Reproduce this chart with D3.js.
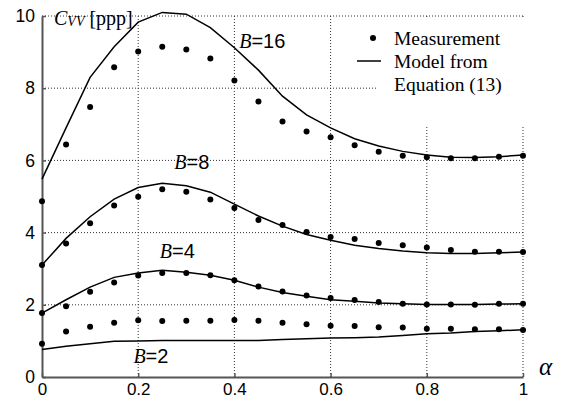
<!DOCTYPE html>
<html>
<head>
<meta charset="utf-8">
<script src="https://cdn.jsdelivr.net/npm/d3@7"></script>
<style>
  body { margin: 0; background: #fff; }
  svg { display: block; }
</style>
</head>
<body>
<div id="chart"></div>
<script>
// alpha values shared by every series (0 .. 1 in steps of 0.05)
const alphas = [0, 0.05, 0.1, 0.15, 0.2, 0.25, 0.3, 0.35, 0.4, 0.45, 0.5,
                0.55, 0.6, 0.65, 0.7, 0.75, 0.8, 0.85, 0.9, 0.95, 1];

// measured C_VV (dots)
const meas16 = [4.87, 6.44, 7.48, 8.58, 9.02, 9.15, 9.07, 8.82, 8.21, 7.63, 7.08,
                6.80, 6.64, 6.42, 6.24, 6.13, 6.09, 6.06, 6.06, 6.10, 6.13];
const meas8  = [3.10, 3.70, 4.26, 4.75, 4.99, 5.20, 5.13, 4.92, 4.68, 4.35, 4.21,
                4.02, 3.88, 3.82, 3.71, 3.65, 3.59, 3.52, 3.47, 3.47, 3.46];
const meas4  = [1.77, 1.96, 2.36, 2.62, 2.81, 2.88, 2.88, 2.82, 2.68, 2.51, 2.37,
                2.26, 2.19, 2.13, 2.08, 2.03, 2.01, 2.01, 2.00, 2.03, 2.03];
const meas2  = [0.92, 1.26, 1.39, 1.50, 1.57, 1.55, 1.56, 1.56, 1.58, 1.56, 1.50,
                1.46, 1.42, 1.41, 1.38, 1.37, 1.34, 1.34, 1.32, 1.32, 1.30];

// model from Equation (13) (lines)
const model16 = [5.48, 6.90, 8.30, 9.15, 9.83, 10.10, 10.05, 9.68, 9.12, 8.50, 7.78,
                 7.26, 6.90, 6.60, 6.40, 6.25, 6.15, 6.09, 6.08, 6.10, 6.15];
const model8  = [3.10, 3.84, 4.44, 4.93, 5.25, 5.37, 5.30, 5.12, 4.79, 4.46, 4.18,
                 3.95, 3.79, 3.65, 3.56, 3.49, 3.44, 3.42, 3.42, 3.44, 3.46];
const model4  = [1.77, 2.14, 2.49, 2.76, 2.88, 2.96, 2.90, 2.82, 2.68, 2.49, 2.34,
                 2.24, 2.14, 2.10, 2.05, 2.03, 2.01, 2.01, 2.01, 2.02, 2.03];
const model2  = [0.76, 0.85, 0.92, 0.99, 1.00, 1.01, 1.01, 1.01, 1.01, 1.01, 1.04,
                 1.06, 1.08, 1.09, 1.11, 1.15, 1.20, 1.22, 1.26, 1.28, 1.31];

const series = [
    { name: '16', meas: meas16, model: model16, label: [0.41, 9.1] },
    { name: '8',  meas: meas8,  model: model8,  label: [0.275, 5.75] },
    { name: '4',  meas: meas4,  model: model4,  label: [0.245, 3.3] },
    { name: '2',  meas: meas2,  model: model2,  label: [0.19, 0.38] }
];

const xTicks = [0, 0.2, 0.4, 0.6, 0.8, 1];
const yTicks = [0, 2, 4, 6, 8, 10];
const legendItems = ['Measurement', 'Model from', 'Equation (13)'];

const width = 565, height = 400;
const margin = { top: 16, right: 42, bottom: 23, left: 42 };

const svg = d3.select('#chart').append('svg')
    .attr('width', width)
    .attr('height', height);

const x = d3.scaleLinear().domain([0, 1]).range([margin.left, width - margin.right]);
const y = d3.scaleLinear().domain([0, 10]).range([height - margin.bottom, margin.top]);

// dotted grid
const grid = svg.append('g')
    .attr('stroke', '#333')
    .attr('stroke-width', 1)
    .attr('stroke-dasharray', '1,2');
grid.selectAll('line.vx')
    .data(xTicks.filter(d => d > 0))
    .enter().append('line')
    .attr('x1', d => x(d)).attr('x2', d => x(d))
    .attr('y1', y(0)).attr('y2', y(10));
grid.selectAll('line.hy')
    .data(yTicks.filter(d => d > 0))
    .enter().append('line')
    .attr('x1', x(0)).attr('x2', x(1))
    .attr('y1', d => y(d)).attr('y2', d => y(d));

// legend background hides the grid behind it
svg.append('rect')
    .attr('x', 376).attr('y', 18)
    .attr('width', 160).attr('height', 109)
    .attr('fill', '#fff');

// axes
const xAxis = svg.append('g')
    .attr('transform', `translate(0,${y(0)})`)
    .call(d3.axisBottom(x).tickValues(xTicks).tickFormat(d3.format('')).tickSizeInner(-4).tickSizeOuter(0));
const yAxis = svg.append('g')
    .attr('transform', `translate(${x(0)},0)`)
    .call(d3.axisLeft(y).tickValues(yTicks).tickFormat(d3.format('')).tickSizeInner(-4).tickSizeOuter(0));

[xAxis, yAxis].forEach(g => {
    g.select('.domain').attr('stroke', '#555').attr('stroke-width', 2);
    g.selectAll('.tick line').attr('stroke', '#555').attr('stroke-width', 1.5);
    g.selectAll('.tick text')
        .attr('fill', '#000')
        .style('font-family', '"Liberation Sans", Arial, sans-serif')
        .style('font-size', '17.5px');
});
xAxis.selectAll('.tick text').attr('y', 6).style('font-size', '17px');
yAxis.selectAll('.tick text').attr('x', -7);

// model lines
const line = d3.line()
    .x((d, i) => x(alphas[i]))
    .y(d => y(d));
svg.selectAll('path.model')
    .data(series)
    .enter().append('path')
    .attr('class', 'model')
    .attr('d', d => line(d.model))
    .attr('fill', 'none')
    .attr('stroke', '#000')
    .attr('stroke-width', 1.5);

// measurement dots
series.forEach(s => {
    svg.append('g').selectAll('circle')
        .data(s.meas)
        .enter().append('circle')
        .attr('cx', (d, i) => x(alphas[i]))
        .attr('cy', d => y(d))
        .attr('r', 3)
        .attr('fill', '#000');
});

// B = ... labels
series.forEach(s => {
    const t = svg.append('text')
        .attr('x', x(s.label[0]))
        .attr('y', y(s.label[1]))
        .style('font-size', '20px');
    t.append('tspan')
        .style('font-family', '"Liberation Serif", "Times New Roman", serif')
        .style('font-style', 'italic')
        .text('B');
    t.append('tspan')
        .style('font-family', '"Liberation Sans", Arial, sans-serif')
        .text('=' + s.name);
});

// y axis title
const yt = svg.append('text')
    .attr('x', 54).attr('y', 25)
    .style('font-family', '"Liberation Serif", "Times New Roman", serif')
    .style('font-size', '20px');
yt.append('tspan').style('font-style', 'italic').text('C');
yt.append('tspan').style('font-style', 'italic').style('font-size', '14px').attr('dy', 1).text('VV');
yt.append('tspan').attr('dy', -1).text(' [ppp]');

// x axis title
svg.append('text')
    .attr('x', 539).attr('y', 375)
    .style('font-family', '"Liberation Serif", "Times New Roman", serif')
    .style('font-style', 'italic')
    .style('font-size', '25px')
    .text('α');

// legend
svg.append('circle').attr('cx', 373).attr('cy', 38).attr('r', 3).attr('fill', '#000');
svg.append('line')
    .attr('x1', 357).attr('x2', 381)
    .attr('y1', 61).attr('y2', 61)
    .attr('stroke', '#000').attr('stroke-width', 1.5);
svg.selectAll('text.legend')
    .data(legendItems)
    .enter().append('text')
    .attr('class', 'legend')
    .attr('x', 394)
    .attr('y', (d, i) => 45 + i * 23)
    .style('font-family', '"Liberation Serif", "Times New Roman", serif')
    .style('font-size', '19.5px')
    .text(d => d);
</script>
</body>
</html>
